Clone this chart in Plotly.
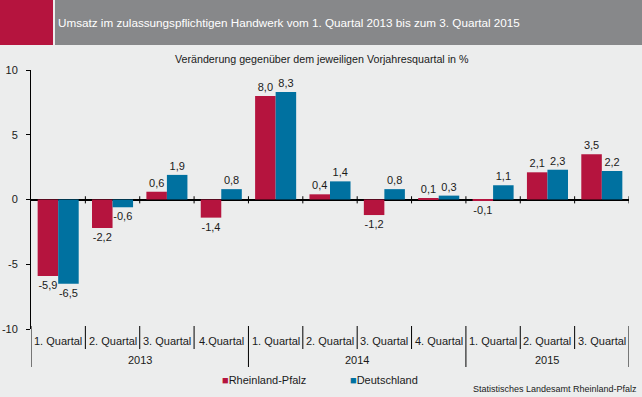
import plotly.graph_objects as go

# ---------------- data ----------------
quartal_labels = ["1. Quartal", "2. Quartal", "3. Quartal", "4.Quartal",
                  "1. Quartal", "2. Quartal", "3. Quartal", "4. Quartal",
                  "1. Quartal", "2. Quartal", "3. Quartal"]
years = ["2013", "2014", "2015"]
year_counts = [4, 4, 3]
rheinland_pfalz = [-5.9, -2.2, 0.6, -1.4, 8.0, 0.4, -1.2, 0.1, -0.1, 2.1, 3.5]
deutschland = [-6.5, -0.6, 1.9, 0.8, 8.3, 1.4, 0.8, 0.3, 1.1, 2.3, 2.2]
series_names = ["Rheinland-Pfalz", "Deutschland"]
y_ticks = [-10, -5, 0, 5, 10]

title = "Umsatz im zulassungspflichtigen Handwerk vom 1. Quartal 2013 bis zum 3. Quartal 2015"
subtitle = "Veränderung gegenüber dem jeweiligen Vorjahresquartal in %"
source = "Statistisches Landesamt Rheinland-Pfalz"

# ---------------- style ----------------
RED = "#B5143E"
BLUE = "#0071A0"
BG = "#ECEDED"
FONT = "Liberation Sans, Arial, sans-serif"
TXT = "#1a1a1a"

W, H = 642, 397
L, R, T, B = 31, 13, 70, 68


def fx(px):
    return (px - L) / (W - L - R)


def fy(py):
    return (H - B - py) / (H - T - B)


def fmt(v):
    return f"{v:.1f}".replace(".", ",")


xpos = list(range(len(quartal_labels)))

fig = go.Figure()
for name, vals, col in [(series_names[0], rheinland_pfalz, RED),
                        (series_names[1], deutschland, BLUE)]:
    fig.add_trace(go.Bar(
        x=xpos, y=vals, name=name, marker=dict(color=col, line=dict(width=0)),
        text=[fmt(v) for v in vals], textposition="outside",
        textfont=dict(size=11, color=TXT, family=FONT),
        constraintext="none", cliponaxis=False, showlegend=False,
    ))

shapes = []
annotations = []

# title bar
shapes.append(dict(type="rect", xref="paper", yref="paper",
                   x0=fx(0), x1=fx(53), y0=fy(45), y1=fy(0),
                   fillcolor=RED, line=dict(width=0), layer="below"))
shapes.append(dict(type="rect", xref="paper", yref="paper",
                   x0=fx(55), x1=fx(642), y0=fy(45), y1=fy(0),
                   fillcolor="#87888A", line=dict(width=0), layer="below"))
annotations.append(dict(xref="paper", yref="paper", x=fx(56), y=fy(23),
                        xanchor="left", yanchor="middle", showarrow=False,
                        text=title, font=dict(size=11.7, color="white", family=FONT)))
annotations.append(dict(xref="paper", yref="paper", x=fx(322), y=fy(59),
                        xanchor="center", yanchor="middle", showarrow=False,
                        text=subtitle, font=dict(size=10.7, color=TXT, family=FONT)))

# category axis decoration
n = len(quartal_labels)
year_bounds = []
acc = 0
for c in year_counts:
    acc += c
    year_bounds.append(acc - 0.5)

# left axis extension and right edge
for b in [-0.5, n - 0.5]:
    shapes.append(dict(type="line", xref="x", yref="paper", x0=b, x1=b,
                       y0=fy(326), y1=fy(367), line=dict(color="black", width=1)))
for i in range(n - 1):
    b = i + 0.5
    bottom = 367 if b in year_bounds else 349
    shapes.append(dict(type="line", xref="x", yref="paper", x0=b, x1=b,
                       y0=fy(326), y1=fy(bottom), line=dict(color="black", width=1)))
# ticks on zero line
for i in range(n):
    b = i + 0.5
    shapes.append(dict(type="line", xref="x", yref="y", x0=b, x1=b,
                       y0=0.25, y1=-0.3, line=dict(color="black", width=1)))

for i, lab in enumerate(quartal_labels):
    annotations.append(dict(xref="x", yref="paper", x=i, y=fy(341),
                            xanchor="center", yanchor="middle", showarrow=False,
                            text=lab, font=dict(size=11, color=TXT, family=FONT)))
start = 0
for yr, c in zip(years, year_counts):
    annotations.append(dict(xref="x", yref="paper", x=start + (c - 1) / 2, y=fy(360),
                            xanchor="center", yanchor="middle", showarrow=False,
                            text=yr, font=dict(size=11, color=TXT, family=FONT)))
    start += c

# legend
for px, name, col in [(220, series_names[0], RED), (348, series_names[1], BLUE)]:
    annotations.append(dict(xref="paper", yref="paper", x=fx(px), y=fy(380),
                            xanchor="left", yanchor="middle", showarrow=False,
                            text=f'<span style="color:{col}">■</span>{name}',
                            font=dict(size=11, color=TXT, family=FONT)))

annotations.append(dict(xref="paper", yref="paper", x=fx(639), y=fy(389),
                        xanchor="right", yanchor="middle", showarrow=False,
                        text=source, font=dict(size=9, color=TXT, family=FONT)))

fig.update_layout(
    width=W, height=H, autosize=False,
    margin=dict(l=L, r=R, t=T, b=B, pad=0, autoexpand=False),
    paper_bgcolor=BG, plot_bgcolor=BG,
    barmode="group", bargap=0.245, bargroupgap=0,
    font=dict(family=FONT, size=11, color=TXT),
    shapes=shapes, annotations=annotations, showlegend=False,
    xaxis=dict(range=[-0.5, n - 0.5], showticklabels=False, showline=False,
               showgrid=False, zeroline=False, ticks="", fixedrange=True,
               automargin=False),
    yaxis=dict(range=[-10, 10], tickvals=y_ticks, ticktext=[str(v) for v in y_ticks],
               ticks="outside", ticklen=4, tickcolor="black", showline=True,
               linecolor="black", linewidth=1, showgrid=False, zeroline=True,
               zerolinecolor="black", zerolinewidth=1.5, fixedrange=True,
               ticklabelstandoff=6, automargin=False,
               tickfont=dict(size=11, color=TXT, family=FONT)),
)

fig.write_html("out.html", config={"displayModeBar": False},
               post_script="document.body.style.margin='0px';")
